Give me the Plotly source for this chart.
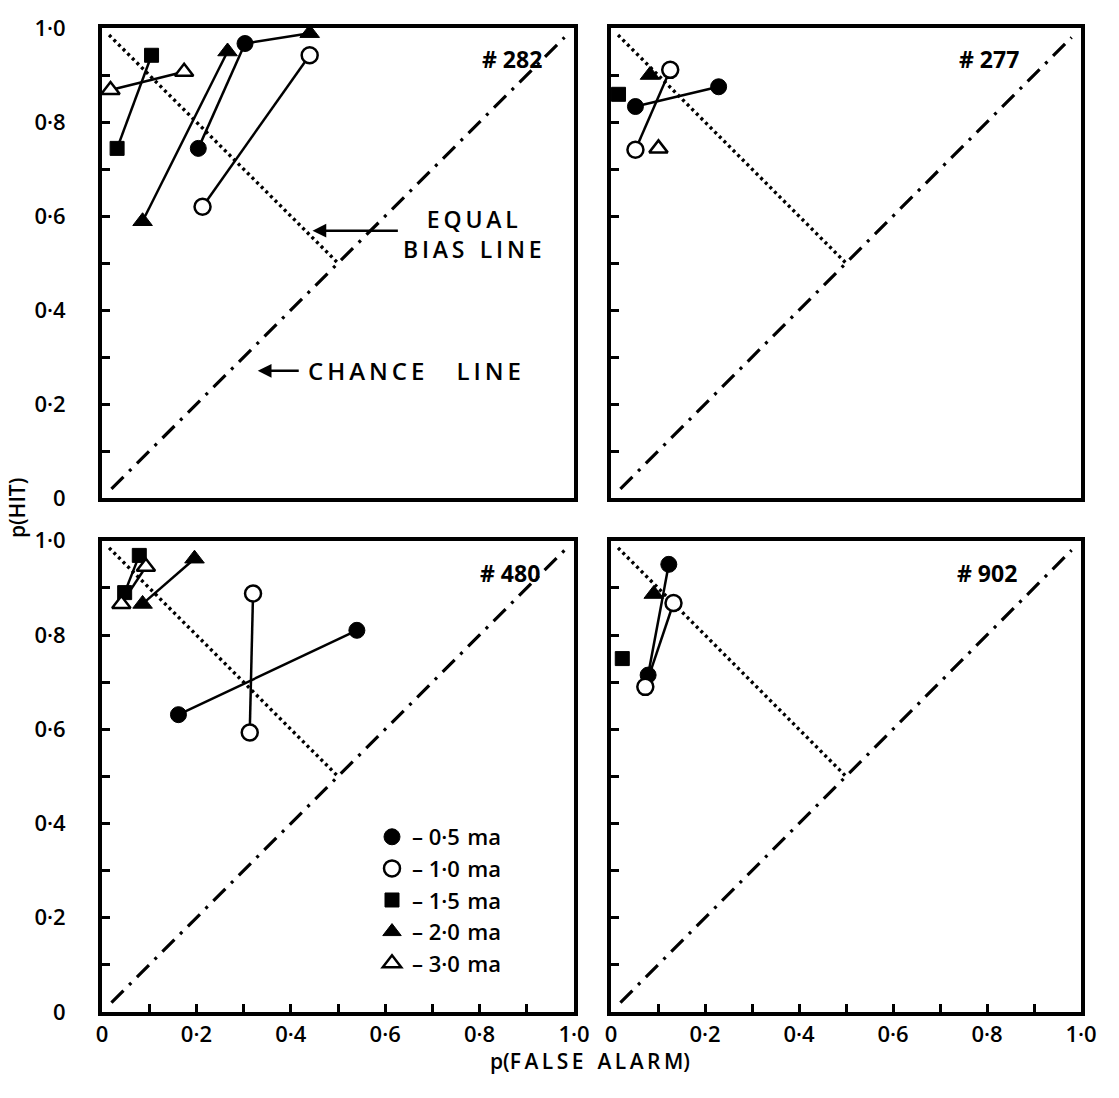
import plotly.graph_objects as go

# ---------------- data ----------------
# p(false alarm) / p(hit) pairs for each shock current, per subject
panel_names = ["# 282", "# 277", "# 480", "# 902"]
current_labels = ["0·5\u2004ma", "1·0\u2004ma", "1·5\u2004ma", "2·0\u2004ma", "3·0\u2004ma"]

# Subject #282
fa_282_05 = [0.204, 0.303]; hit_282_05 = [0.744, 0.967]
fa_282_10 = [0.213, 0.440]; hit_282_10 = [0.620, 0.942]
fa_282_15 = [0.032, 0.105]; hit_282_15 = [0.744, 0.942]
fa_282_20 = [0.086, 0.266, 0.440]; hit_282_20 = [0.589, 0.950, 0.989]
fa_282_30 = [0.018, 0.174]; hit_282_30 = [0.868, 0.907]

# Subject #277
fa_277_05 = [0.052, 0.229]; hit_277_05 = [0.833, 0.875]
fa_277_10 = [0.052, 0.126]; hit_277_10 = [0.741, 0.911]
fa_277_15 = [0.016]; hit_277_15 = [0.859]
fa_277_20 = [0.083]; hit_277_20 = [0.900]
fa_277_30 = [0.101]; hit_277_30 = [0.744]

# Subject #480
fa_480_05 = [0.162, 0.540]; hit_480_05 = [0.631, 0.810]
fa_480_10 = [0.313, 0.320]; hit_480_10 = [0.593, 0.888]
fa_480_15 = [0.048, 0.079]; hit_480_15 = [0.890, 0.969]
fa_480_20 = [0.086, 0.196]; hit_480_20 = [0.866, 0.962]
fa_480_30 = [0.041, 0.093]; hit_480_30 = [0.866, 0.945]

# Subject #902
fa_902_05 = [0.079, 0.123]; hit_902_05 = [0.715, 0.950]
fa_902_10 = [0.073, 0.133]; hit_902_10 = [0.690, 0.868]
fa_902_15 = [0.024]; hit_902_15 = [0.750]
fa_902_20 = [0.091]; hit_902_20 = [0.887]
fa_902_30 = []; hit_902_30 = []

# reference lines
chance_fa = [0.02, 0.98]; chance_hit = [0.02, 0.98]
bias_fa = [0.015, 0.50]; bias_hit = [0.985, 0.50]

tick_vals = [0, 0.1, 0.2, 0.3, 0.4, 0.5, 0.6, 0.7, 0.8, 0.9, 1.0]
tick_text = ["0", "", "0·2", "", "0·4", "", "0·6", "", "0·8", "", "1·0"]

# ---------------- assembly ----------------
panels = [
    {"name": panel_names[0],
     "fa": [fa_282_05, fa_282_10, fa_282_15, fa_282_20, fa_282_30],
     "hit": [hit_282_05, hit_282_10, hit_282_15, hit_282_20, hit_282_30],
     "links": [([fa_282_20[0], fa_282_20[1]], [hit_282_20[0], hit_282_20[1]]),
               ([fa_282_05[1], fa_282_20[2]], [hit_282_05[1], hit_282_20[2]])],
     "connect": [True, True, True, False, True]},
    {"name": panel_names[1],
     "fa": [fa_277_05, fa_277_10, fa_277_15, fa_277_20, fa_277_30],
     "hit": [hit_277_05, hit_277_10, hit_277_15, hit_277_20, hit_277_30],
     "links": [], "connect": [True, True, False, False, False]},
    {"name": panel_names[2],
     "fa": [fa_480_05, fa_480_10, fa_480_15, fa_480_20, fa_480_30],
     "hit": [hit_480_05, hit_480_10, hit_480_15, hit_480_20, hit_480_30],
     "links": [], "connect": [True, True, True, True, True]},
    {"name": panel_names[3],
     "fa": [fa_902_05, fa_902_10, fa_902_15, fa_902_20, fa_902_30],
     "hit": [hit_902_05, hit_902_10, hit_902_15, hit_902_20, hit_902_30],
     "links": [], "connect": [True, True, False, False, False]},
]

marker_styles = [
    dict(symbol="circle", size=16, color="black", line=dict(color="black", width=1)),
    dict(symbol="circle", size=16, color="white", line=dict(color="black", width=2.5)),
    dict(symbol="square", size=14, color="black", line=dict(color="black", width=1)),
    dict(symbol="triangle-up", size=17, color="black", line=dict(color="black", width=1)),
    dict(symbol="triangle-up", size=16, color="white", line=dict(color="black", width=2.5)),
]
draw_order = [3, 2, 4, 0, 1]

FONT = "Open Sans"
fig = go.Figure()

axis_ids = [("x", "y"), ("x2", "y2"), ("x3", "y3"), ("x4", "y4")]

for pi, (p, (xa, ya)) in enumerate(zip(panels, axis_ids)):
    # chance line (dash-dot)
    fig.add_trace(go.Scatter(x=chance_fa, y=chance_hit, xaxis=xa, yaxis=ya, mode="lines",
                             line=dict(color="black", width=3.2, dash="17px,8px,3px,8px"),
                             showlegend=False, hoverinfo="skip"))
    # equal bias line (dotted)
    fig.add_trace(go.Scatter(x=bias_fa, y=bias_hit, xaxis=xa, yaxis=ya, mode="lines",
                             line=dict(color="black", width=3.4, dash="3px,3.5px"),
                             showlegend=False, hoverinfo="skip"))
    # connecting segments
    lx, ly = [], []
    for fa, hit, c in zip(p["fa"], p["hit"], p["connect"]):
        if c and len(fa) > 1:
            lx += list(fa) + [None]
            ly += list(hit) + [None]
    for fa, hit in p["links"]:
        lx += list(fa) + [None]
        ly += list(hit) + [None]
    fig.add_trace(go.Scatter(x=lx, y=ly, xaxis=xa, yaxis=ya, mode="lines",
                             line=dict(color="black", width=2.5),
                             showlegend=False, hoverinfo="skip"))
    # markers
    for si in draw_order:
        fig.add_trace(go.Scatter(x=p["fa"][si], y=p["hit"][si], xaxis=xa, yaxis=ya,
                                 mode="markers", marker=marker_styles[si],
                                 name="– " + current_labels[si],
                                 legendrank=si + 1,
                                 showlegend=(pi == 2), cliponaxis=False))

# ---------------- layout (pixel targets in page coordinates) ----------------
W, H = 1119, 1098
L, T = 102, 18
R = W - 1081
B = H - 1012
pw, ph = W - L - R, H - T - B
left_dom = [0, (574 - L) / pw]
right_dom = [(611 - L) / pw, 1]
top_dom = [(H - B - 493) / ph, 1]
bot_dom = [0, (H - B - 536) / ph]

tickfont = dict(family=FONT, size=22, color="black", weight=600)

def xaxis(dom, anchor, labels):
    return dict(domain=dom, anchor=anchor, range=[0, 1], showgrid=False, zeroline=False,
                showline=True, mirror=True, linewidth=4, linecolor="black",
                tickmode="array", tickvals=tick_vals if labels else [],
                ticktext=tick_text if labels else [],
                ticks="inside" if labels else "", ticklen=8, tickwidth=2.5, tickcolor="black",
                showticklabels=labels, tickfont=tickfont, ticklabelstandoff=0)

def yaxis(dom, anchor, labels):
    return dict(domain=dom, anchor=anchor, range=[0, 1], showgrid=False, zeroline=False,
                showline=True, mirror=True, linewidth=4, linecolor="black",
                tickmode="array", tickvals=tick_vals, ticktext=tick_text,
                ticks="inside", ticklen=8, tickwidth=2.5, tickcolor="black",
                showticklabels=labels, tickfont=tickfont, ticklabelstandoff=28)

fig.update_layout(
    width=W, height=H,
    margin=dict(l=L, r=R, t=T, b=B),
    paper_bgcolor="white", plot_bgcolor="white",
    font=dict(family=FONT, color="black"),
    hovermode=False,
    xaxis=xaxis(left_dom, "y", False), yaxis=yaxis(top_dom, "x", True),
    xaxis2=xaxis(right_dom, "y2", False), yaxis2=yaxis(top_dom, "x2", False),
    xaxis3=xaxis(left_dom, "y3", True), yaxis3=yaxis(bot_dom, "x3", True),
    xaxis4=xaxis(right_dom, "y4", True), yaxis4=yaxis(bot_dom, "x4", False),
    legend=dict(x=(372 - L) / pw, y=(H - B - 814) / ph, xanchor="left", yanchor="top",
                bgcolor="rgba(0,0,0,0)", font=dict(family=FONT, size=22, color="black", weight=600),
                itemwidth=30, tracegroupgap=0, traceorder="normal"),
    showlegend=True,
)

ann = []
label_pos = [(0.868, 0.935), (0.805, 0.935), (0.864, 0.932), (0.80, 0.932)]
for (xa, ya), p, (lxp, lyp) in zip(axis_ids, panels, label_pos):
    ann.append(dict(x=lxp, y=lyp, xref=xa, yref=ya, text=p["name"], showarrow=False,
                    font=dict(family=FONT, size=23, color="black", weight=700)))

th = "\u2009"
gap = "\u2004"
lab_font = dict(family=FONT, size=23, color="black", weight=600)
ann += [
    dict(x=0.785, y=0.562, xref="x", yref="y", align="center",
         text=th.join("EQUAL") + "<br>" + th.join("BIAS") + gap * 2 + th.join("LINE"),
         showarrow=False, font=lab_font),
    dict(x=0.446, y=0.569, ax=0.63, ay=0.569, xref="x", yref="y", axref="x", ayref="y",
         text="", showarrow=True, arrowhead=2, arrowsize=1.1, arrowwidth=2.5, arrowcolor="black"),
    dict(x=0.662, y=0.271, xref="x", yref="y", text=th.join("CHANCE") + gap * 4 + th.join("LINE"),
         showarrow=False, font=dict(family=FONT, size=24, color="black", weight=600)),
    dict(x=0.33, y=0.271, ax=0.42, ay=0.271, xref="x", yref="y", axref="x", ayref="y",
         text="", showarrow=True, arrowhead=2, arrowsize=1.1, arrowwidth=2.5, arrowcolor="black"),
    dict(x=(590 - L) / pw, y=(H - B - 1078) / ph, xref="paper", yref="paper",
         text="p(" + th.join("FALSE") + gap * 2 + th.join("ALARM") + ")", showarrow=False,
         font=dict(family=FONT, size=21, color="black", weight=600)),
    dict(x=(17 - L) / pw, y=(H - B - 503) / ph, xref="paper", yref="paper", xanchor="center",
         text="p(HIT)", textangle=-90, showarrow=False,
         font=dict(family=FONT, size=21, color="black", weight=600)),
]
fig.update_layout(annotations=ann)

# remove the default 8px page margin so the figure fills the window exactly; no modebar
fig.write_html("out.html", config={"displayModeBar": False},
               post_script="document.body.style.margin='0px';")
